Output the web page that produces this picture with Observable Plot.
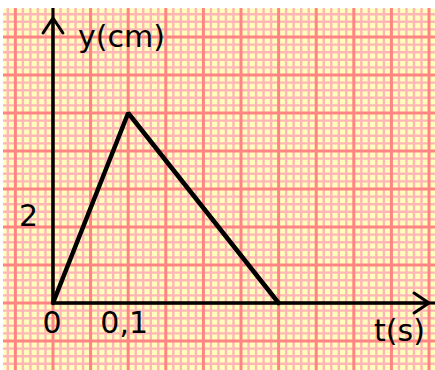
<!DOCTYPE html>
<html><head><meta charset="utf-8">
<script src="https://cdn.jsdelivr.net/npm/d3@7"></script>
<script src="https://cdn.jsdelivr.net/npm/@observablehq/plot@0.6"></script>
<style>body{margin:0;background:#fff}</style>
</head><body><div id="chart"></div>
<script>
const times = [0, 0.1, 0.3];
const displacement = [0, 5, 0];
const xTickValues = [0, 0.1];
const xTickLabels = ["0", "0,1"];
const yTickValues = [2];
const yTickLabels = ["2"];
const xLabel = "t(s)";
const yLabel = "y(cm)";
const xAxisEnd = 0.5;
const yAxisEnd = 7.5;

const data = times.map((t, i) => ({t, y: displacement[i]}));
const xDomain = [-0.0658, 0.5086];
const yDomain = [-1.776, 7.75];
const xs = d3.range(Math.ceil(xDomain[0] / 0.01), Math.floor(xDomain[1] / 0.01) + 1);
const ys = d3.range(Math.ceil(yDomain[0] / 0.2), Math.floor(yDomain[1] / 0.2) + 1);
const xMinor = xs.filter(k => k % 5 !== 0).map(k => k * 0.01);
const xMajor = xs.filter(k => k % 5 === 0).map(k => k * 0.01);
const yMinor = ys.filter(k => k % 5 !== 0).map(k => k * 0.2);
const yMajor = ys.filter(k => k % 5 === 0).map(k => k * 0.2);

const font = {fontFamily: "DejaVu Sans", fontSize: 30, fill: "#000"};
const minorColor = "#ffb6b6", majorColor = "#ff8484";

const chart = Plot.plot({
  width: 435, height: 370,
  marginTop: 8, marginLeft: 3, marginRight: 0, marginBottom: 0,
  x: {domain: xDomain, axis: null},
  y: {domain: yDomain, axis: null},
  style: {background: "#fff", overflow: "visible"},
  marks: [
    Plot.frame({fill: "#ffffbb", stroke: "none"}),
    Plot.ruleX(xMinor, {stroke: minorColor, strokeWidth: 2.4}),
    Plot.ruleY(yMinor, {stroke: minorColor, strokeWidth: 2.4}),
    Plot.ruleX(xMajor, {stroke: majorColor, strokeWidth: 3}),
    Plot.ruleY(yMajor, {stroke: majorColor, strokeWidth: 3}),
    Plot.ruleX([0], {y1: 0, y2: yDomain[1], stroke: "#000", strokeWidth: 3}),
    Plot.ruleY([0], {x1: 0, x2: xDomain[1], stroke: "#000", strokeWidth: 3}),
    Plot.arrow([0], {x1: 0, y1: 0, x2: 0, y2: yAxisEnd, stroke: "#000", strokeWidth: 3, headLength: 9, headAngle: 67}),
    Plot.arrow([0], {x1: 0, y1: 0, x2: xAxisEnd, y2: 0, stroke: "#000", strokeWidth: 3, headLength: 9, headAngle: 67}),
    Plot.line(data, {x: "t", y: "y", stroke: "#000", strokeWidth: 4.5, strokeLinejoin: "miter"}),
    Plot.text([xTickValues[0]], {x: d => d, y: 0, text: () => xTickLabels[0], dy: 20, dx: -1, ...font}),
    Plot.text([xTickValues[1]], {x: d => d, y: 0, text: () => xTickLabels[1], dy: 20, dx: -4, ...font}),
    Plot.text(yTickValues, {x: 0, y: d => d, text: (d, i) => yTickLabels[i], dx: -24.5, dy: -10.5, ...font}),
    Plot.text([yLabel], {x: 0, y: yAxisEnd, text: d => d, textAnchor: "start", dx: 25, dy: 19, ...font}),
    Plot.text([xLabel], {x: xAxisEnd, y: 0, text: d => d, textAnchor: "start", dx: -55, dy: 28, ...font})
  ]
});
document.getElementById("chart").append(chart);
</script>
</body></html>
